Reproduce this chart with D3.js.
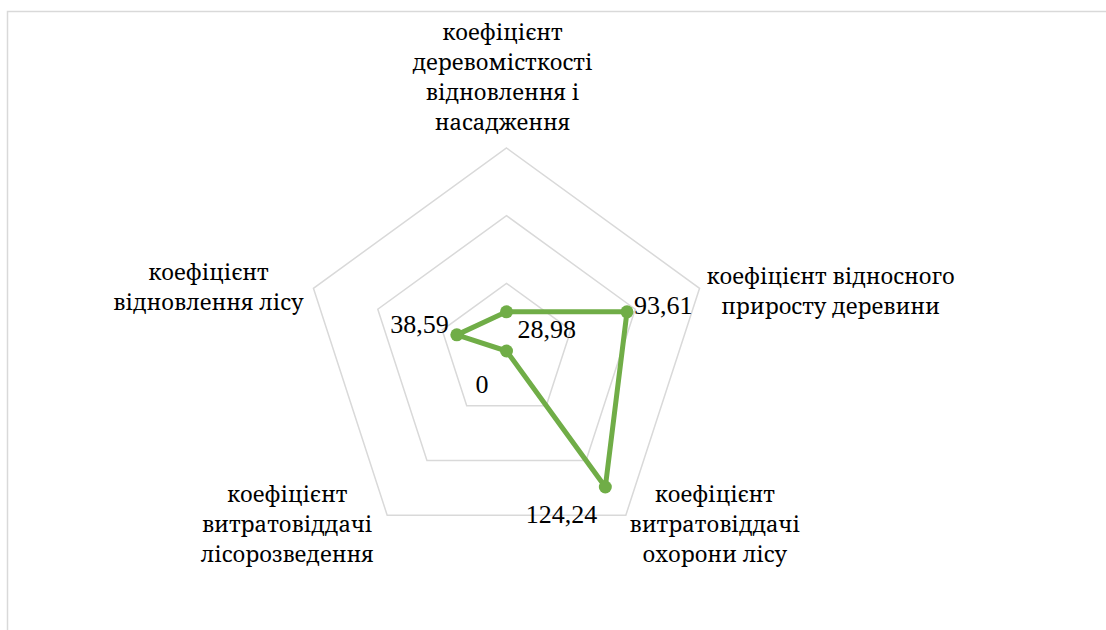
<!DOCTYPE html>
<html>
<head>
<meta charset="utf-8">
<script src="https://cdn.jsdelivr.net/npm/d3@7/dist/d3.min.js"></script>
<style>
  html, body { margin: 0; padding: 0; background: #fff; }
  svg { display: block; }
</style>
</head>
<body>
<svg id="chart" width="1106" height="630"></svg>
<script>
// ---- data ----
const categories = [
  ["коефіцієнт", "деревомісткості", "відновлення і", "насадження"],
  ["коефіцієнт відносного", "приросту деревини"],
  ["коефіцієнт", "витратовіддачі", "охорони лісу"],
  ["коефіцієнт", "витратовіддачі", "лісорозведення"],
  ["коефіцієнт", "відновлення лісу"]
];
const values = [28.98, 93.61, 124.24, 0, 38.59];
const valueLabels = ["28,98", "93,61", "124,24", "0", "38,59"];
const gridTicks = [50, 100, 150];

// ---- layout ----
const W = 1106, H = 630;
const cx = 506.5, cy = 351, R = 203;
const lineH = 30;
const green = "#70AD47", gridColor = "#d9d9d9";
const NUM_FONT = "'Liberation Serif', 'Times New Roman', serif";
const CAT_FONT = "'Noto Serif', 'DejaVu Serif', serif";
const numSize = 26, catSize = 22;

// category label placement relative to the outer vertex: [dx (center), first baseline dy]
const catOffsets = [[-4, -108], [131, -4], [89, -13], [-100, -13], [-105, -8]];
// value label placement relative to the point: [dx, dy, anchor]
const valOffsets = [[11, 26, "start"], [7, 2, "start"], [-8, 36, "end"], [-18, 42, "end"], [-8, -2, "end"]];

const svg = d3.select("#chart");

// outer border
svg.append("rect")
  .attr("x", 7.5).attr("y", 11.5)
  .attr("width", W + 50).attr("height", H + 50)
  .attr("fill", "none").attr("stroke", gridColor).attr("stroke-width", 1.5);

const r = d3.scaleLinear().domain([0, 150]).range([0, R]);
const angle = d3.scaleLinear().domain([0, categories.length]).range([0, 2 * Math.PI]);

const g = svg.append("g").attr("transform", `translate(${cx},${cy})`);

const pt = (i, v) => [Math.sin(angle(i)) * r(v), -Math.cos(angle(i)) * r(v)];

// grid pentagons
const gridLine = d3.lineRadial().angle((d, i) => angle(i)).radius(d => r(d)).curve(d3.curveLinearClosed);
gridTicks.forEach(t => {
  g.append("path")
    .attr("d", gridLine(categories.map(() => t)))
    .attr("fill", "none").attr("stroke", gridColor).attr("stroke-width", 1.5);
});

// data line
g.append("path")
  .attr("d", gridLine(values))
  .attr("fill", "none").attr("stroke", green).attr("stroke-width", 5)
  .attr("stroke-linejoin", "round");

// markers
g.selectAll("circle.m").data(values).enter().append("circle")
  .attr("class", "m")
  .attr("cx", (d, i) => pt(i, d)[0])
  .attr("cy", (d, i) => pt(i, d)[1])
  .attr("r", 6.5).attr("fill", green);

// value labels
g.selectAll("text.v").data(values).enter().append("text")
  .attr("class", "v")
  .attr("x", (d, i) => pt(i, d)[0] + valOffsets[i][0])
  .attr("y", (d, i) => pt(i, d)[1] + valOffsets[i][1])
  .attr("text-anchor", (d, i) => valOffsets[i][2])
  .attr("font-family", NUM_FONT)
  .attr("font-size", numSize)
  .attr("fill", "#000")
  .text((d, i) => valueLabels[i]);

// category labels
categories.forEach((lines, i) => {
  const [vx, vy] = pt(i, 150);
  const t = g.append("text")
    .attr("text-anchor", "middle")
    .attr("font-family", CAT_FONT)
    .attr("font-size", catSize)
    .attr("fill", "#000");
  lines.forEach((ln, k) => {
    t.append("tspan")
      .attr("x", vx + catOffsets[i][0])
      .attr("y", vy + catOffsets[i][1] + k * lineH)
      .text(ln);
  });
});
</script>
</body>
</html>
